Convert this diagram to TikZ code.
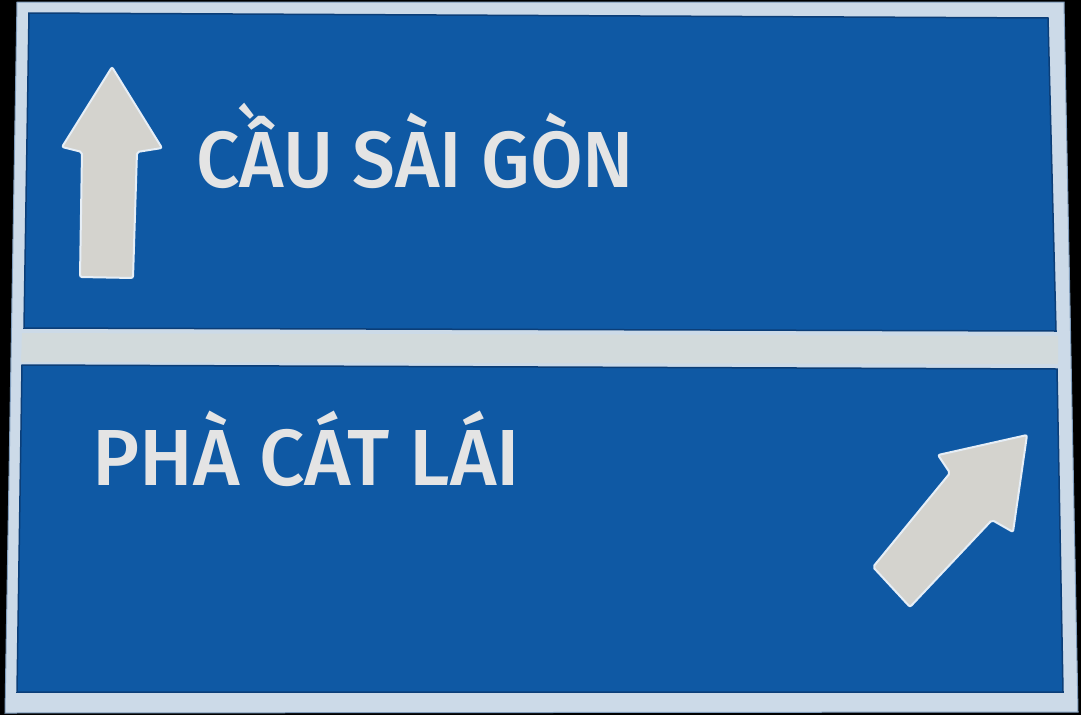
\documentclass[tikz,border=0pt]{standalone}
\usepackage{fontspec}
\usepackage{graphicx}
\newfontfamily\signfont{Fira Sans Medium}
\definecolor{signblue}{HTML}{0F59A4}
\definecolor{bluedark}{HTML}{0B3E78}
\definecolor{rimlight}{HTML}{CCDAE8}
\definecolor{rimline}{HTML}{7F9CBC}
\definecolor{bandcol}{HTML}{D2DADC}
\definecolor{arrowfill}{HTML}{D4D3CE}
\definecolor{arrowedge}{HTML}{E6EEF6}
\definecolor{lettercol}{HTML}{E4E4E4}
\newcommand\signtext[3]{%
  \setbox0=\hbox{#3}\setbox2=\hbox{H}%
  \edef\wdA{\the\wd0}\edef\htA{\the\ht2}%
  \pgfmathsetmacro\sx{#1/\wdA}\pgfmathsetmacro\sy{#2/\htA}%
  \scalebox{\sx}[\sy]{\box0}}
\tikzset{
  panel/.style={fill=signblue, draw=bluedark, line width=1.5pt},
  signarrow/.style={fill=arrowfill, draw=arrowedge, line width=2pt, rounded corners=2pt},
  label/.style={anchor=base west, inner sep=0pt, text=lettercol,
    font=\signfont\fontsize{70}{80}\selectfont}
}
\begin{document}
\begin{tikzpicture}[x=1pt,y=-1pt]
\fill[black] (0,0) rectangle (1081,715);
\useasboundingbox (0,0) rectangle (1081,715);
% sign rim
\filldraw[fill=rimlight, draw=rimline, line width=1pt]
  (17,2) -- (1064,2) -- (1078,712) -- (5,713) -- cycle;
% divider band
\fill[bandcol] (22,333) -- (1058,336) -- (1058,364) -- (21,362) -- cycle;
% panels
\path[panel] (29,13) -- (1048,18) -- (1056,331) -- (24,328) -- cycle;
\path[panel] (22,365) -- (1057,369) -- (1063,692) -- (17,692) -- cycle;
% up arrow
\path[signarrow] (112,67) -- (162,148) -- (137,152) -- (133,278) -- (80,277) -- (82,152) -- (62,147) -- cycle;
% diagonal arrow
\path[signarrow] (1027,435) -- (1013,532) -- (992,520) -- (910,607) -- (873,567) -- (950,473) -- (938,455) -- cycle;
% texts
\node[label] (t1) at (196,187) {\signtext{438}{55}{CẦU SÀI GÒN}};
\node[label] (t2) at (92,485) {\signtext{428}{55}{PHÀ CÁT LÁI}};
\end{tikzpicture}
\end{document}
